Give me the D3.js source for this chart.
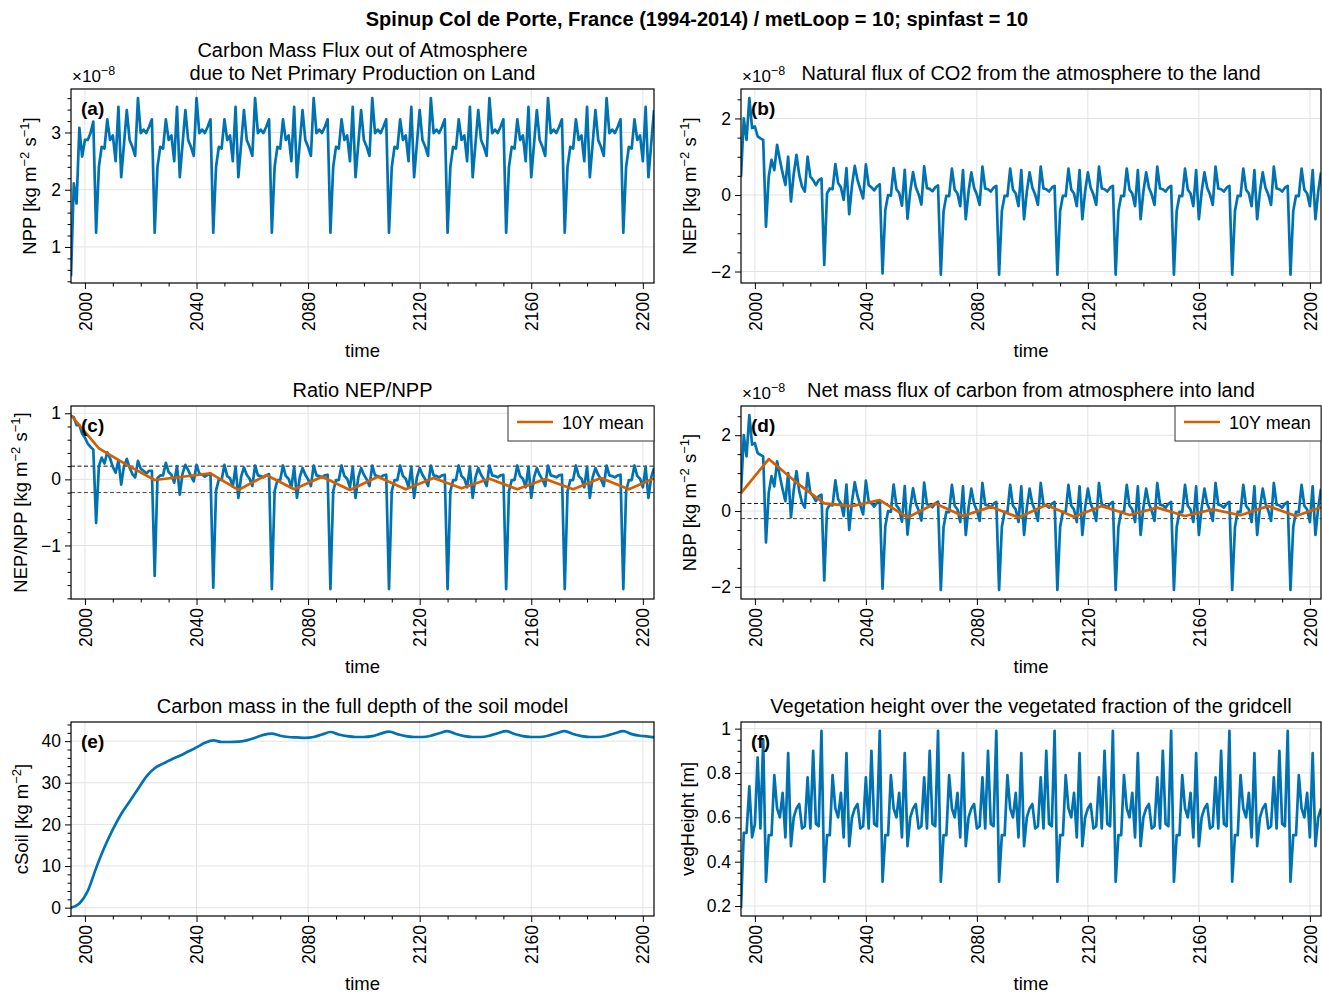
<!DOCTYPE html>
<html>
<head>
<meta charset="utf-8">
<script src="https://cdn.jsdelivr.net/npm/d3@7"></script>
<style>
  body { margin: 0; background: #fff; }
  text { font-family: "Liberation Sans", Arial, sans-serif; fill: #000; }
</style>
</head>
<body>
<div id="chart"></div>
<script>
// yearly values 1995..2204 (10 met loops of 21 years, first one partial)
const years = d3.range(1995, 2205);

// NPP, x1e-8 kg m-2 s-1
const npp = [
  0.49, 2.11, 1.76, 3.08, 2.58, 2.87, 2.87, 2.99, 3.19,
  1.25, 2.4, 2.75, 2.72, 3.23, 2.87, 2.95, 2.5, 3.45, 2.22, 2.8, 3.39, 2.87, 2.75, 2.59, 3.6, 2.99, 3.05, 2.99, 3.1, 3.23,
  1.25, 2.4, 2.75, 2.72, 3.23, 2.87, 2.95, 2.5, 3.45, 2.22, 2.8, 3.39, 2.87, 2.75, 2.59, 3.6, 2.99, 3.05, 2.99, 3.1, 3.23,
  1.25, 2.4, 2.75, 2.72, 3.23, 2.87, 2.95, 2.5, 3.45, 2.22, 2.8, 3.39, 2.87, 2.75, 2.59, 3.6, 2.99, 3.05, 2.99, 3.1, 3.23,
  1.25, 2.4, 2.75, 2.72, 3.23, 2.87, 2.95, 2.5, 3.45, 2.22, 2.8, 3.39, 2.87, 2.75, 2.59, 3.6, 2.99, 3.05, 2.99, 3.1, 3.23,
  1.25, 2.4, 2.75, 2.72, 3.23, 2.87, 2.95, 2.5, 3.45, 2.22, 2.8, 3.39, 2.87, 2.75, 2.59, 3.6, 2.99, 3.05, 2.99, 3.1, 3.23,
  1.25, 2.4, 2.75, 2.72, 3.23, 2.87, 2.95, 2.5, 3.45, 2.22, 2.8, 3.39, 2.87, 2.75, 2.59, 3.6, 2.99, 3.05, 2.99, 3.1, 3.23,
  1.25, 2.4, 2.75, 2.72, 3.23, 2.87, 2.95, 2.5, 3.45, 2.22, 2.8, 3.39, 2.87, 2.75, 2.59, 3.6, 2.99, 3.05, 2.99, 3.1, 3.23,
  1.25, 2.4, 2.75, 2.72, 3.23, 2.87, 2.95, 2.5, 3.45, 2.22, 2.8, 3.39, 2.87, 2.75, 2.59, 3.6, 2.99, 3.05, 2.99, 3.1, 3.23,
  1.25, 2.4, 2.75, 2.72, 3.23, 2.87, 2.95, 2.5, 3.45, 2.22, 2.8, 3.39, 2.87, 2.75, 2.59, 3.6, 2.99, 3.05, 2.99, 3.1, 3.23,
  1.25, 2.4, 2.75, 2.72, 3.23, 2.87, 2.95, 2.5, 3.45, 2.22, 2.8, 3.39
];

// NEP, x1e-8 kg m-2 s-1 (NBP is the same in this run)
const nep = [
  0.48, 2.0, 1.44, 2.53, 1.75, 1.79, 1.53, 1.48, 1.44,
  -0.83, 0.48, 0.92, 0.65, 1.31, 0.92, 0.57, 0.26, 1.0, -0.17, 0.55, 1.05, 0.52, 0.22, 0.09, 1.0, 0.48, 0.39, 0.26, 0.39, 0.43,
  -1.83, 0.04, 0.17, 0.15, 0.81, 0.31, 0.2, -0.13, 0.7, -0.5, 0.25, 0.76, 0.39, 0.15, -0.09, 0.8, 0.26, 0.2, 0.12, 0.22, 0.28,
  -2.05, -0.4, 0.0, -0.02, 0.7, 0.15, 0.05, -0.28, 0.66, -0.62, 0.1, 0.6, 0.2, 0.02, -0.25, 0.75, 0.18, 0.16, 0.1, 0.2, 0.25,
  -2.08, -0.42, -0.02, -0.03, 0.69, 0.14, 0.04, -0.29, 0.65, -0.63, 0.09, 0.59, 0.19, 0.01, -0.26, 0.74, 0.17, 0.15, 0.09, 0.19, 0.24,
  -2.08, -0.42, -0.02, -0.03, 0.69, 0.14, 0.04, -0.29, 0.65, -0.63, 0.09, 0.59, 0.19, 0.01, -0.26, 0.74, 0.17, 0.15, 0.09, 0.19, 0.24,
  -2.08, -0.42, -0.02, -0.03, 0.69, 0.14, 0.04, -0.29, 0.65, -0.63, 0.09, 0.59, 0.19, 0.01, -0.26, 0.74, 0.17, 0.15, 0.09, 0.19, 0.24,
  -2.08, -0.42, -0.02, -0.03, 0.69, 0.14, 0.04, -0.29, 0.65, -0.63, 0.09, 0.59, 0.19, 0.01, -0.26, 0.74, 0.17, 0.15, 0.09, 0.19, 0.24,
  -2.08, -0.42, -0.02, -0.03, 0.69, 0.14, 0.04, -0.29, 0.65, -0.63, 0.09, 0.59, 0.19, 0.01, -0.26, 0.74, 0.17, 0.15, 0.09, 0.19, 0.24,
  -2.08, -0.42, -0.02, -0.03, 0.69, 0.14, 0.04, -0.29, 0.65, -0.63, 0.09, 0.59, 0.19, 0.01, -0.26, 0.74, 0.17, 0.15, 0.09, 0.19, 0.24,
  -2.08, -0.42, -0.02, -0.03, 0.69, 0.14, 0.04, -0.29, 0.65, -0.63, 0.09, 0.59
];

// NEP/NPP ratio
const ratio = [
  0.96, 0.94, 0.82, 0.82, 0.69, 0.63, 0.54, 0.49, 0.45,
  -0.66, 0.2, 0.33, 0.24, 0.41, 0.32, 0.19, 0.1, 0.29, -0.08, 0.2, 0.31, 0.18, 0.08, 0.03, 0.28, 0.16, 0.13, 0.09, 0.13, 0.13,
  -1.46, 0.02, 0.06, 0.06, 0.25, 0.11, 0.07, -0.05, 0.2, -0.23, 0.09, 0.22, 0.14, 0.05, -0.03, 0.22, 0.09, 0.07, 0.04, 0.07, 0.09,
  -1.64, -0.17, 0.0, -0.01, 0.22, 0.05, 0.02, -0.11, 0.19, -0.28, 0.04, 0.18, 0.07, 0.01, -0.1, 0.21, 0.06, 0.05, 0.03, 0.06, 0.08,
  -1.66, -0.18, -0.01, -0.01, 0.21, 0.05, 0.01, -0.12, 0.19, -0.28, 0.03, 0.17, 0.07, 0.0, -0.1, 0.21, 0.06, 0.05, 0.03, 0.06, 0.07,
  -1.66, -0.18, -0.01, -0.01, 0.21, 0.05, 0.01, -0.12, 0.19, -0.28, 0.03, 0.17, 0.07, 0.0, -0.1, 0.21, 0.06, 0.05, 0.03, 0.06, 0.07,
  -1.66, -0.18, -0.01, -0.01, 0.21, 0.05, 0.01, -0.12, 0.19, -0.28, 0.03, 0.17, 0.07, 0.0, -0.1, 0.21, 0.06, 0.05, 0.03, 0.06, 0.07,
  -1.66, -0.18, -0.01, -0.01, 0.21, 0.05, 0.01, -0.12, 0.19, -0.28, 0.03, 0.17, 0.07, 0.0, -0.1, 0.21, 0.06, 0.05, 0.03, 0.06, 0.07,
  -1.66, -0.18, -0.01, -0.01, 0.21, 0.05, 0.01, -0.12, 0.19, -0.28, 0.03, 0.17, 0.07, 0.0, -0.1, 0.21, 0.06, 0.05, 0.03, 0.06, 0.07,
  -1.66, -0.18, -0.01, -0.01, 0.21, 0.05, 0.01, -0.12, 0.19, -0.28, 0.03, 0.17, 0.07, 0.0, -0.1, 0.21, 0.06, 0.05, 0.03, 0.06, 0.07,
  -1.66, -0.18, -0.01, -0.01, 0.21, 0.05, 0.01, -0.12, 0.19, -0.28, 0.03, 0.17
];

// vegetation height, m
const vegHeight = [
  0.19, 0.53, 0.53, 0.74, 0.51, 0.57, 0.87, 0.55, 0.95,
  0.31, 0.52, 0.52, 0.79, 0.64, 0.6, 0.71, 0.51, 0.89, 0.47, 0.6, 0.64, 0.66, 0.55, 0.56, 0.78, 0.55, 0.9, 0.57, 0.56, 0.99,
  0.31, 0.52, 0.52, 0.79, 0.64, 0.6, 0.71, 0.51, 0.89, 0.47, 0.6, 0.64, 0.66, 0.55, 0.56, 0.78, 0.55, 0.9, 0.57, 0.56, 0.99,
  0.31, 0.52, 0.52, 0.79, 0.64, 0.6, 0.71, 0.51, 0.89, 0.47, 0.6, 0.64, 0.66, 0.55, 0.56, 0.78, 0.55, 0.9, 0.57, 0.56, 0.99,
  0.31, 0.52, 0.52, 0.79, 0.64, 0.6, 0.71, 0.51, 0.89, 0.47, 0.6, 0.64, 0.66, 0.55, 0.56, 0.78, 0.55, 0.9, 0.57, 0.56, 0.99,
  0.31, 0.52, 0.52, 0.79, 0.64, 0.6, 0.71, 0.51, 0.89, 0.47, 0.6, 0.64, 0.66, 0.55, 0.56, 0.78, 0.55, 0.9, 0.57, 0.56, 0.99,
  0.31, 0.52, 0.52, 0.79, 0.64, 0.6, 0.71, 0.51, 0.89, 0.47, 0.6, 0.64, 0.66, 0.55, 0.56, 0.78, 0.55, 0.9, 0.57, 0.56, 0.99,
  0.31, 0.52, 0.52, 0.79, 0.64, 0.6, 0.71, 0.51, 0.89, 0.47, 0.6, 0.64, 0.66, 0.55, 0.56, 0.78, 0.55, 0.9, 0.57, 0.56, 0.99,
  0.31, 0.52, 0.52, 0.79, 0.64, 0.6, 0.71, 0.51, 0.89, 0.47, 0.6, 0.64, 0.66, 0.55, 0.56, 0.78, 0.55, 0.9, 0.57, 0.56, 0.99,
  0.31, 0.52, 0.52, 0.79, 0.64, 0.6, 0.71, 0.51, 0.89, 0.47, 0.6, 0.64, 0.66, 0.55, 0.56, 0.78, 0.55, 0.9, 0.57, 0.56, 0.99,
  0.31, 0.52, 0.52, 0.79, 0.64, 0.6, 0.71, 0.51, 0.89, 0.47, 0.6, 0.64
];

// soil carbon, kg m-2, read every 3 years
const cSoilYears = [
  1995, 1998, 2001, 2004, 2007, 2010, 2013, 2016, 2019, 2022, 2025, 2028, 2031, 2034, 2037, 2040, 2043, 2046,
  2049, 2052, 2055, 2058, 2061, 2064, 2067, 2070, 2073, 2076, 2079, 2082, 2085, 2088, 2091, 2094, 2097, 2100,
  2103, 2106, 2109, 2112, 2115, 2118, 2121, 2124, 2127, 2130, 2133, 2136, 2139, 2142, 2145, 2148, 2151, 2154,
  2157, 2160, 2163, 2166, 2169, 2172, 2175, 2178, 2181, 2184, 2187, 2190, 2193, 2196, 2199, 2202, 2204
];
const cSoil = [
  0, 1.0, 4.0, 9.5, 14.5, 18.8, 22.5, 25.5, 28.5, 31.5, 33.5, 34.6, 35.6, 36.5, 37.5, 38.5, 39.6, 40.2,
  39.8, 39.8, 39.9, 40.2, 40.8, 41.5, 41.8, 41.3, 41.0, 40.9, 40.8, 41.0, 41.6, 42.2, 41.6, 41.2, 41.0, 41.0,
  41.2, 41.8, 42.3, 41.7, 41.2, 41.0, 41.0, 41.3, 41.9, 42.4, 41.7, 41.2, 41.0, 41.0, 41.3, 41.9, 42.4, 41.7,
  41.2, 41.0, 41.0, 41.3, 41.9, 42.4, 41.7, 41.2, 41.0, 41.0, 41.3, 41.9, 42.4, 41.7, 41.3, 41.1, 40.9
];

// 10-year means
const meanYears = [1995, 2005, 2015, 2025, 2035, 2045, 2055, 2065, 2075, 2085, 2095, 2105, 2115, 2125, 2135, 2145, 2155, 2165, 2175, 2185, 2195, 2204];
const ratioMean = [0.97, 0.47, 0.22, -0.01, 0.04, 0.09, -0.16, 0.065, -0.15, 0.04, -0.16, 0.04, -0.15, 0.02, -0.135, 0.01, -0.15, 0.005, -0.15, 0.02, -0.15, 0.015];
const nbpMean = [0.47, 1.37, 0.75, 0.2, 0.13, 0.29, -0.17, 0.2, -0.13, 0.11, -0.17, 0.16, -0.15, 0.13, -0.105, 0.09, -0.13, 0.045, -0.11, 0.13, -0.13, 0.1];

const xMajor = [2000, 2040, 2080, 2120, 2160, 2200];
const xMinor = d3.range(2010, 2200, 10).filter(d => !xMajor.includes(d));

const blue = "#0072B2";
const orange = "#D55E00";
const W = 1322, H = 994;

const svg = d3.select("#chart").append("svg")
  .attr("width", W)
  .attr("height", H);

svg.append("text")
  .attr("x", 697).attr("y", 26)
  .attr("text-anchor", "middle")
  .style("font-size", "20px")
  .style("font-weight", "bold")
  .text("Spinup Col de Porte, France (1994-2014) / metLoop = 10; spinfast = 10");

const panels = [
  { id: "a", box: [71, 654, 89, 283], yDomain: [0.37, 3.76], yTicks: [1, 2, 3], yMinor: 0.2,
    title: ["Carbon Mass Flux out of Atmosphere", "due to Net Primary Production on Land"],
    label: [["NPP [kg m"], ["−2", 1], [" s"], ["−1", 1], ["]"]], labelX: 30, exp: true,
    series: [{ x: years, y: npp, color: blue }] },
  { id: "b", box: [741, 1321, 89, 283], yDomain: [-2.3, 2.77], yTicks: [-2, 0, 2], yMinor: 0.5,
    title: ["Natural flux of CO2 from the atmosphere to the land"],
    label: [["NEP [kg m"], ["−2", 1], [" s"], ["−1", 1], ["]"]], labelX: 690, exp: true,
    series: [{ x: years, y: nep, color: blue }] },
  { id: "c", box: [71, 654, 406, 599], yDomain: [-1.81, 1.11], yTicks: [-1, 0, 1], yMinor: 0.2,
    title: ["Ratio NEP/NPP"], dashed: [0.2, -0.2], legend: true,
    label: [["NEP/NPP [kg m"], ["−2", 1], [" s"], ["−1", 1], ["]"]], labelX: 21,
    series: [{ x: years, y: ratio, color: blue }, { x: meanYears, y: ratioMean, color: orange }] },
  { id: "d", box: [741, 1321, 406, 599], yDomain: [-2.32, 2.77], yTicks: [-2, 0, 2], yMinor: 0.5,
    title: ["Net mass flux of carbon from atmosphere into land"], dashed: [0.2, -0.2], legend: true,
    label: [["NBP [kg m"], ["−2", 1], [" s"], ["−1", 1], ["]"]], labelX: 690, exp: true,
    series: [{ x: years, y: nep, color: blue }, { x: meanYears, y: nbpMean, color: orange }] },
  { id: "e", box: [71, 654, 722, 916], yDomain: [-2, 44.6], yTicks: [0, 10, 20, 30, 40], yMinor: 2,
    title: ["Carbon mass in the full depth of the soil model"],
    label: [["cSoil [kg m"], ["−2", 1], ["]"]], labelX: 22, smooth: true,
    series: [{ x: cSoilYears, y: cSoil, color: blue }] },
  { id: "f", box: [741, 1321, 722, 916], yDomain: [0.155, 1.03], yTicks: [0.2, 0.4, 0.6, 0.8, 1], yMinor: 0.05,
    title: ["Vegetation height over the vegetated fraction of the gridcell"],
    label: [["vegHeight [m]"]], labelX: 688,
    series: [{ x: years, y: vegHeight, color: blue }] }
];

const fmt = d3.format("~g");

panels.forEach(p => {
  const [x0, x1, y0, y1] = p.box;
  const g = svg.append("g");
  const x = d3.scaleLinear().domain([1995, 2204]).range([x0, x1]);
  const y = d3.scaleLinear().domain(p.yDomain).range([y1, y0]);

  // grid
  g.selectAll(".vg").data(xMajor).enter().append("line")
    .attr("x1", d => x(d)).attr("x2", d => x(d))
    .attr("y1", y0).attr("y2", y1)
    .attr("stroke", "#e3e3e3").attr("stroke-width", 1);
  g.selectAll(".hg").data(p.yTicks).enter().append("line")
    .attr("x1", x0).attr("x2", x1)
    .attr("y1", d => y(d)).attr("y2", d => y(d))
    .attr("stroke", "#e3e3e3").attr("stroke-width", 1);

  svg.append("clipPath").attr("id", "clip-" + p.id)
    .append("rect").attr("x", x0).attr("y", y0).attr("width", x1 - x0).attr("height", y1 - y0);
  const plot = g.append("g").attr("clip-path", `url(#clip-${p.id})`);

  if (p.dashed) {
    plot.selectAll(".dash").data(p.dashed).enter().append("line")
      .attr("x1", x0).attr("x2", x1)
      .attr("y1", d => y(d)).attr("y2", d => y(d))
      .attr("stroke", (d, i) => i === 0 ? "#111" : "#444")
      .attr("stroke-width", 1)
      .attr("stroke-dasharray", "4,2.5");
  }

  p.series.forEach(s => {
    const line = d3.line()
      .x((d, i) => x(s.x[i]))
      .y(d => y(d));
    if (p.smooth) line.curve(d3.curveMonotoneX);
    plot.append("path")
      .datum(s.y)
      .attr("fill", "none")
      .attr("stroke", s.color)
      .attr("stroke-width", 2.7)
      .attr("stroke-linejoin", "round")
      .attr("d", line);
  });

  // frame
  g.append("rect")
    .attr("x", x0).attr("y", y0).attr("width", x1 - x0).attr("height", y1 - y0)
    .attr("fill", "none").attr("stroke", "#000").attr("stroke-width", 1.2);

  // x axis
  const xa = g.append("g").attr("transform", `translate(0,${y1})`)
    .call(d3.axisBottom(x).tickValues(xMajor).tickSize(6).tickPadding(8).tickFormat(d3.format("d")));
  xa.select(".domain").remove();
  xa.selectAll("text")
    .attr("transform", "rotate(-90)")
    .attr("text-anchor", "end")
    .attr("x", -9).attr("y", 0).attr("dy", "0.35em")
    .style("font-size", "17.5px")
    .style("font-family", "'Liberation Sans', Arial, sans-serif");
  const xm = g.append("g").attr("transform", `translate(0,${y1})`)
    .call(d3.axisBottom(x).tickValues(xMinor).tickSize(3.5).tickFormat(""));
  xm.select(".domain").remove();

  // y axis
  const ya = g.append("g").attr("transform", `translate(${x0},0)`)
    .call(d3.axisLeft(y).tickValues(p.yTicks).tickSize(6).tickPadding(4).tickFormat(fmt));
  ya.select(".domain").remove();
  ya.selectAll("text")
    .style("font-size", "17.5px")
    .style("font-family", "'Liberation Sans', Arial, sans-serif");
  const minorVals = d3.range(Math.ceil(p.yDomain[0] / p.yMinor), Math.floor(p.yDomain[1] / p.yMinor) + 1)
    .map(k => +(k * p.yMinor).toFixed(3))
    .filter(v => !p.yTicks.includes(v));
  const ym = g.append("g").attr("transform", `translate(${x0},0)`)
    .call(d3.axisLeft(y).tickValues(minorVals).tickSize(3.5).tickFormat(""));
  ym.select(".domain").remove();
  g.selectAll(".tick line").attr("stroke", "#000");

  // axis titles
  g.append("text")
    .attr("x", (x0 + x1) / 2).attr("y", y1 + 74)
    .attr("text-anchor", "middle")
    .style("font-size", "18.5px")
    .text("time");

  const yl = g.append("text")
    .attr("transform", `translate(${p.labelX},${(y0 + y1) / 2}) rotate(-90)`)
    .attr("text-anchor", "middle")
    .attr("dy", "0.35em")
    .style("font-size", "18.5px");
  let up = false;
  p.label.forEach(([t, sup]) => {
    const ts = yl.append("tspan").text(t);
    if (sup) { ts.attr("dy", up ? 0 : -7).style("font-size", "13px"); up = true; }
    else if (up) { ts.attr("dy", 7); up = false; }
  });

  // titles
  const cx = (x0 + x1) / 2;
  p.title.forEach((t, i) => {
    g.append("text")
      .attr("x", cx).attr("y", y0 - 9 - (p.title.length - 1 - i) * 23)
      .attr("text-anchor", "middle")
      .style("font-size", "20px")
      .text(t);
  });

  if (p.exp) {
    const e = g.append("text").attr("x", x0 + 1).attr("y", y0 - 7).style("font-size", "17px");
    e.append("tspan").text("×10");
    e.append("tspan").attr("dy", -7).style("font-size", "12.5px").text("−8");
  }

  g.append("text")
    .attr("x", x0 + 10).attr("y", y0 + 26)
    .style("font-size", "19px").style("font-weight", "bold")
    .text(`(${p.id})`);

  if (p.legend) {
    const lg = g.append("g");
    lg.append("rect")
      .attr("x", x1 - 146).attr("y", y0).attr("width", 146).attr("height", 35)
      .attr("fill", "#fff").attr("stroke", "#333").attr("stroke-width", 1);
    lg.append("line")
      .attr("x1", x1 - 137).attr("x2", x1 - 101)
      .attr("y1", y0 + 16).attr("y2", y0 + 16)
      .attr("stroke", orange).attr("stroke-width", 2.7);
    lg.append("text")
      .attr("x", x1 - 92).attr("y", y0 + 23)
      .style("font-size", "18px")
      .text("10Y mean");
  }
});
</script>
</body>
</html>
